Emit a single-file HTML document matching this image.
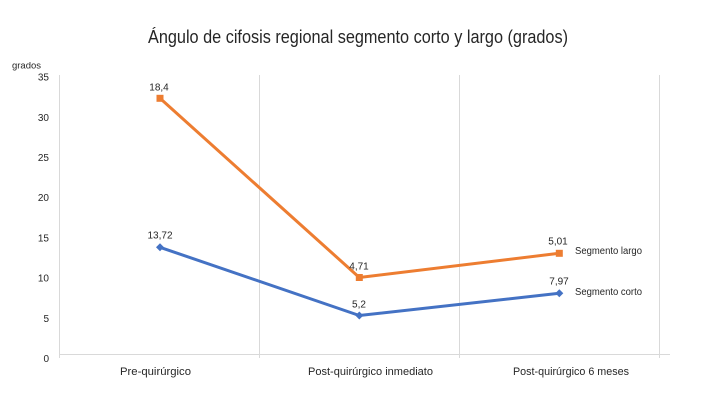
<!DOCTYPE html>
<html>
<head>
<meta charset="utf-8">
<style>
  html,body{margin:0;padding:0;background:#fff;}
  svg{display:block;}
  text{font-family:"Liberation Sans", sans-serif;fill:#262626;}
</style>
</head>
<body>
<svg width="720" height="405" viewBox="0 0 720 405" xmlns="http://www.w3.org/2000/svg">
  <rect x="0" y="0" width="720" height="405" fill="#fff"/>
  <!-- title -->
  <text x="148" y="43" font-size="18" textLength="420" lengthAdjust="spacingAndGlyphs" fill="#000">Ángulo de cifosis regional segmento corto y largo (grados)</text>
  <!-- y-axis title -->
  <text x="12" y="68.5" font-size="9" textLength="29" lengthAdjust="spacingAndGlyphs">grados</text>

  <!-- gridlines -->
  <g stroke="#d9d9d9" stroke-width="1">
    <line x1="59.5" y1="75" x2="59.5" y2="358"/>
    <line x1="259.5" y1="75" x2="259.5" y2="358"/>
    <line x1="459.5" y1="75" x2="459.5" y2="358"/>
    <line x1="659.5" y1="75" x2="659.5" y2="358"/>
    <line x1="59" y1="354.5" x2="670" y2="354.5"/>
  </g>

  <!-- y tick labels -->
  <g font-size="10" text-anchor="end">
    <text x="49" y="80.6">35</text>
    <text x="49" y="120.8">30</text>
    <text x="49" y="161">25</text>
    <text x="49" y="201.2">20</text>
    <text x="49" y="241.4">15</text>
    <text x="49" y="281.6">10</text>
    <text x="49" y="321.8">5</text>
    <text x="49" y="362">0</text>
  </g>

  <!-- x labels -->
  <g font-size="11">
    <text x="120" y="375" textLength="71" lengthAdjust="spacingAndGlyphs">Pre-quirúrgico</text>
    <text x="308" y="375" textLength="125" lengthAdjust="spacingAndGlyphs">Post-quirúrgico inmediato</text>
    <text x="513" y="375" textLength="116" lengthAdjust="spacingAndGlyphs">Post-quirúrgico 6 meses</text>
  </g>

  <!-- series: Segmento largo (orange) -->
  <polyline points="160,98.3 359.3,277.5 559.3,253.3" fill="none" stroke="#ED7D31" stroke-width="3" stroke-linejoin="round"/>
  <g fill="#ED7D31">
    <rect x="156.5" y="94.8" width="7" height="7"/>
    <rect x="355.8" y="274" width="7" height="7"/>
    <rect x="555.8" y="249.8" width="7" height="7"/>
  </g>

  <!-- series: Segmento corto (blue) -->
  <polyline points="160,247.3 359.3,315.5 559.3,293.3" fill="none" stroke="#4472C4" stroke-width="3" stroke-linejoin="round"/>
  <g fill="#4472C4">
    <polygon points="160,243.3 164,247.3 160,251.3 156,247.3"/>
    <polygon points="359.3,311.5 363.3,315.5 359.3,319.5 355.3,315.5"/>
    <polygon points="559.3,289.3 563.3,293.3 559.3,297.3 555.3,293.3"/>
  </g>

  <!-- data labels -->
  <g font-size="10" text-anchor="middle">
    <text x="159" y="90.3">18,4</text>
    <text x="160" y="238.6">13,72</text>
    <text x="359" y="269.5">4,71</text>
    <text x="359" y="307.6">5,2</text>
    <text x="558" y="244.3">5,01</text>
    <text x="559" y="284.6">7,97</text>
  </g>

  <!-- series name labels -->
  <g font-size="10">
    <text x="575" y="254.2" textLength="67" lengthAdjust="spacingAndGlyphs">Segmento largo</text>
    <text x="575" y="295.2" textLength="67" lengthAdjust="spacingAndGlyphs">Segmento corto</text>
  </g>
</svg>
</body>
</html>
